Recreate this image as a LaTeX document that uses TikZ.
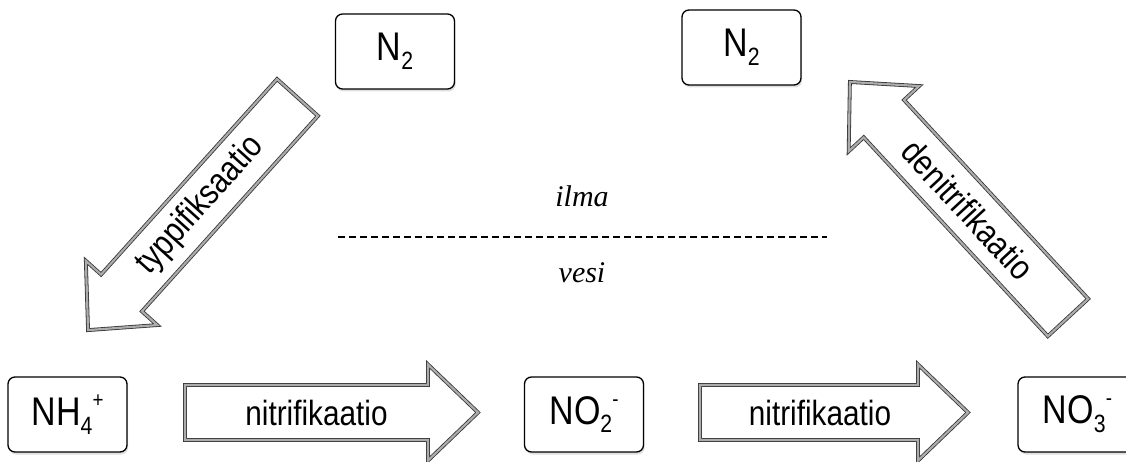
\documentclass[tikz,border=0pt]{standalone}
\usepackage{fontspec}
\usetikzlibrary{shadows}
\newfontfamily\labfont[FakeStretch=0.85]{Liberation Sans}
\newfontfamily\airfont{Liberation Serif}
\newcommand\chsub[1]{\raisebox{-0.22em}{\fontsize{25}{25}\selectfont #1}}
\newcommand\chsup[1]{\raisebox{0.45em}{\fontsize{22}{22}\selectfont #1}}
\tikzset{
  chem/.style={draw, line width=1.3pt, rounded corners=7pt, minimum width=119pt,
    minimum height=75pt, inner sep=0pt, fill=white,
    font=\labfont\fontsize{40}{40}\selectfont,
    drop shadow={shadow xshift=1.2pt, shadow yshift=-2.5pt, opacity=0.25}},
  fat/.style={fill=white, draw=black!80, line width=0.8pt, double=gray!65,
    double distance=2.2pt, line join=miter},
  proc/.style={font=\labfont\fontsize{35}{35}\selectfont, inner sep=0pt},
  medium/.style={font=\airfont\itshape\fontsize{30}{30}\selectfont, inner sep=0pt, anchor=base},
}
\newcommand\fatarrow[1]{%
  \draw[fat] (0,-27.5) -- (#1-50,-27.5) -- (#1-50,-48) -- (#1,0) -- (#1-50,48)
    -- (#1-50,27.5) -- (0,27.5) -- cycle;}
\begin{document}
\begin{tikzpicture}[x=1pt,y=1pt]
\useasboundingbox (0,0) rectangle (1126,461);
% boxes
\node[chem] (n2a) at (395,409.5) {N\chsub{2}};
\node[chem] (n2b) at (741.5,413.5) {N\chsub{2}};
\node[chem] (nh4) at (67.5,46.5) {NH\chsub{4}\chsup{+}};
\node[chem] (no2) at (584,46.5) {NO\chsub{2}\chsup{-}};
\node[chem] (no3) at (1077.5,46.5) {NO\chsub{3}\chsup{-}};
% horizontal arrows
\begin{scope}[shift={(185,48.5)}]
  \fatarrow{293}
  \node[proc] (nit1) at (131.5,0) {nitrifikaatio};
\end{scope}
\begin{scope}[shift={(700,48.5)}]
  \fatarrow{268}
  \node[proc] (nit2) at (120,0) {nitrifikaatio};
\end{scope}
% diagonal arrows
\begin{scope}[shift={(297.5,363.5)}, rotate=228]
  \fatarrow{313}
  \node[proc, rotate=48] (typ) at (145,0) {typpifiksaatio};
\end{scope}
\begin{scope}[shift={(1068,143.5)}, rotate=132.8]
  \fatarrow{321}
  \node[proc, rotate=-47.2] (den) at (147,0) {denitrifikaatio};
\end{scope}
% air / water
\coordinate (dl) at (338,224);
\coordinate (dr) at (827,224);
\draw[dash pattern=on 7pt off 4pt, line width=2pt] (dl) -- (dr);
\node[medium] (ilma) at (582,254) {ilma};
\node[medium] (vesi) at (582,179) {vesi};
\end{tikzpicture}
\end{document}
